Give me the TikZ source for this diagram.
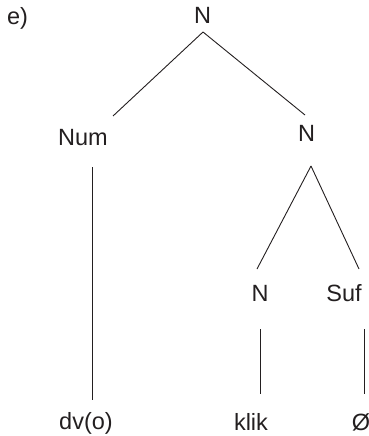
\documentclass[tikz,border=0pt]{standalone}
\usepackage{fontspec}
\setmainfont{Liberation Sans}
\definecolor{ink}{HTML}{231F20}
\tikzset{
  lbl/.style={inner sep=0pt, anchor=base, text=ink, font=\fontsize{23.5}{28}\selectfont},
  edge/.style={draw=ink, line width=0.9pt}
}
\begin{document}
\begin{tikzpicture}[x=1pt,y=-1pt]
\useasboundingbox (0,0) rectangle (369,436);
\node[lbl] (lab) at (17.5,24.5) {e)};
\node[lbl] (top) at (202.5,23.5) {N};
\node[lbl] (num) at (83,145.5) {Num};
\node[lbl] (nr) at (306.5,141) {N};
\node[lbl] (nl) at (260,301.5) {N};
\node[lbl] (suf) at (344,301) {Suf};
\node[lbl] (dv) at (86,429.5) {dv(o)};
\node[lbl] (klik) at (251,430) {klik};
\node[lbl] (zero) at (361,430) {Ø};
\draw[edge] ([shift={(0.5,8.5)}]top.base) -- ([shift={(30,-29.5)}]num.base);
\draw[edge] ([shift={(0.5,8.5)}]top.base) -- ([shift={(-1.5,-26)}]nr.base);
\draw[edge] ([shift={(9,21.5)}]num.base) -- ([shift={(6,-29.5)}]dv.base);
\draw[edge] ([shift={(4.5,25)}]nr.base) -- ([shift={(-3,-32.5)}]nl.base);
\draw[edge] ([shift={(4.5,25)}]nr.base) -- ([shift={(15,-32)}]suf.base);
\draw[edge] ([shift={(0,27.5)}]nl.base) -- ([shift={(9,-36)}]klik.base);
\draw[edge] ([shift={(20,28)}]suf.base) -- ([shift={(3,-36)}]zero.base);
\end{tikzpicture}
\end{document}
